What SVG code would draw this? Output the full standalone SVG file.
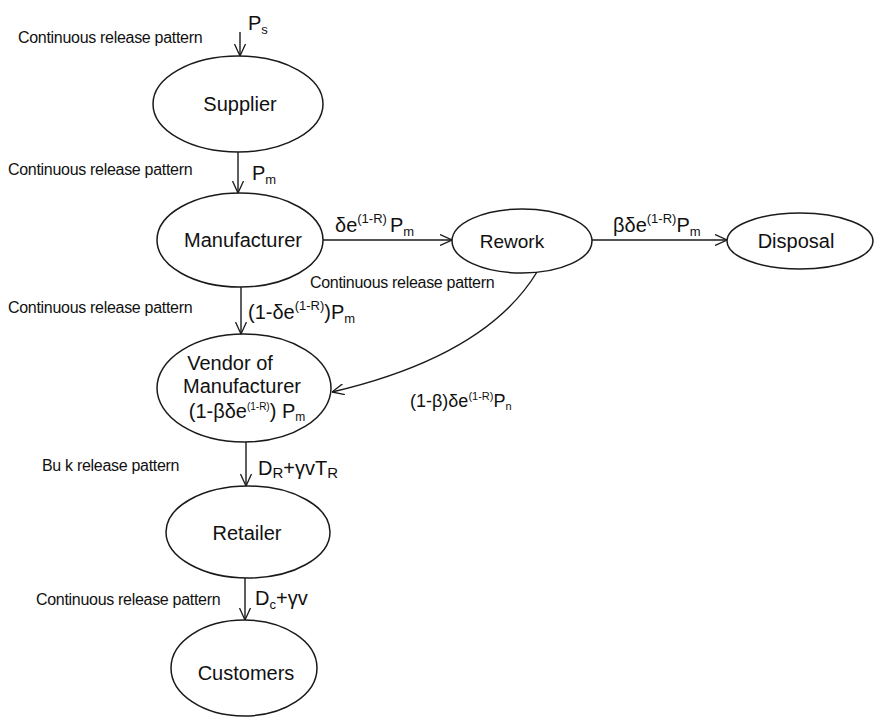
<svg xmlns="http://www.w3.org/2000/svg" width="876" height="720" viewBox="0 0 876 720">
  <style>
    .node { fill: #ffffff; stroke: #1a1a1a; stroke-width: 1.5; }
    .edge { fill: none; stroke: #1a1a1a; stroke-width: 1.4; marker-end: url(#arr); }
    .name { font-family: "Liberation Sans", Arial, sans-serif; font-size: 20px; fill: #111; text-anchor: middle; }
    .note { font-family: "Liberation Sans", Arial, sans-serif; font-size: 16px; fill: #111; letter-spacing: -0.3px; }
    .math { font-family: "Liberation Sans", Arial, sans-serif; font-size: 20px; fill: #111; }
    .sm { font-size: 13px; }
  </style>
  <defs>
    <marker id="arr" viewBox="0 0 12 12" refX="12" refY="6" markerWidth="12" markerHeight="12" markerUnits="userSpaceOnUse" orient="auto">
      <path d="M0,0.5 L12,6 L0,11.5" fill="none" stroke="#1a1a1a" stroke-width="1.3"/>
    </marker>
  </defs>

  <!-- connectors -->
  <g id="connectors">
    <path class="edge" d="M240,32 L240,56"/>
    <path class="edge" d="M238,152 L238,193"/>
    <path class="edge" d="M323,240 L452,240"/>
    <path class="edge" d="M592,240 L727,240"/>
    <path class="edge" d="M241,287 L241,334"/>
    <path class="edge" d="M537,272 Q486,356 332,392"/>
    <path class="edge" d="M246,442 L246,486"/>
    <path class="edge" d="M245,578 L245,620"/>
  </g>

  <!-- nodes -->
  <g id="supplier">
    <ellipse class="node" cx="238" cy="104" rx="85" ry="48"/>
    <text class="name" x="240" y="111">Supplier</text>
  </g>
  <g id="manufacturer">
    <ellipse class="node" cx="240" cy="240" rx="83" ry="47"/>
    <text class="name" x="243" y="247">Manufacturer</text>
  </g>
  <g id="rework">
    <ellipse class="node" cx="522" cy="241" rx="70" ry="32"/>
    <text class="name" x="512" y="248" style="font-size:19px">Rework</text>
  </g>
  <g id="disposal">
    <ellipse class="node" cx="800" cy="241" rx="73" ry="28"/>
    <text class="name" x="796" y="248">Disposal</text>
  </g>
  <g id="vendor">
    <ellipse class="node" cx="244" cy="388" rx="87" ry="54"/>
    <text class="name" x="230" y="370">Vendor of</text>
    <text class="name" x="242" y="393">Manufacturer</text>
    <text class="name" x="247" y="418">(1-βδe<tspan dy="-8" style="font-size:10px">(1-R)</tspan><tspan dy="8">) P</tspan><tspan dy="3" style="font-size:12px">m</tspan></text>
  </g>
  <g id="retailer">
    <ellipse class="node" cx="248" cy="532" rx="82" ry="46"/>
    <text class="name" x="247" y="540">Retailer</text>
  </g>
  <g id="customers">
    <ellipse class="node" cx="244" cy="668" rx="73" ry="48"/>
    <text class="name" x="246" y="680">Customers</text>
  </g>

  <!-- flow labels -->
  <g id="labels">
    <text class="note" x="18" y="43">Continuous release pattern</text>
    <text class="math" x="248" y="30">P<tspan class="sm" dy="4">s</tspan></text>

    <text class="note" x="8" y="175">Continuous release pattern</text>
    <text class="math" x="252" y="180">P<tspan class="sm" dy="4">m</tspan></text>

    <text class="math" x="335" y="232">δe<tspan class="sm" dy="-9">(1-R)</tspan><tspan dy="9" dx="3">P</tspan><tspan class="sm" dy="4">m</tspan></text>
    <text class="math" x="613" y="232">βδe<tspan class="sm" dy="-9">(1-R)</tspan><tspan dy="9">P</tspan><tspan class="sm" dy="4">m</tspan></text>

    <text class="note" x="310" y="288">Continuous release pattern</text>

    <text class="note" x="8" y="313">Continuous release pattern</text>
    <text class="math" x="248" y="319">(1-δe<tspan class="sm" dy="-9">(1-R)</tspan><tspan dy="9">)P</tspan><tspan class="sm" dy="4">m</tspan></text>

    <text class="math" x="410" y="407" style="font-size:18px">(1-β)δe<tspan dy="-7" style="font-size:11px">(1-R)</tspan><tspan dy="7">P</tspan><tspan dy="3" style="font-size:11px">n</tspan></text>

    <text class="note" x="42" y="471">Bu k release pattern</text>
    <text class="math" x="258" y="475">D<tspan dy="3" style="font-size:15px">R</tspan><tspan dy="-3">+γvT</tspan><tspan dy="3" style="font-size:15px">R</tspan></text>

    <text class="note" x="36" y="605">Continuous release pattern</text>
    <text class="math" x="255" y="605">D<tspan class="sm" dy="4">c</tspan><tspan dy="-4">+γv</tspan></text>
  </g>
</svg>
